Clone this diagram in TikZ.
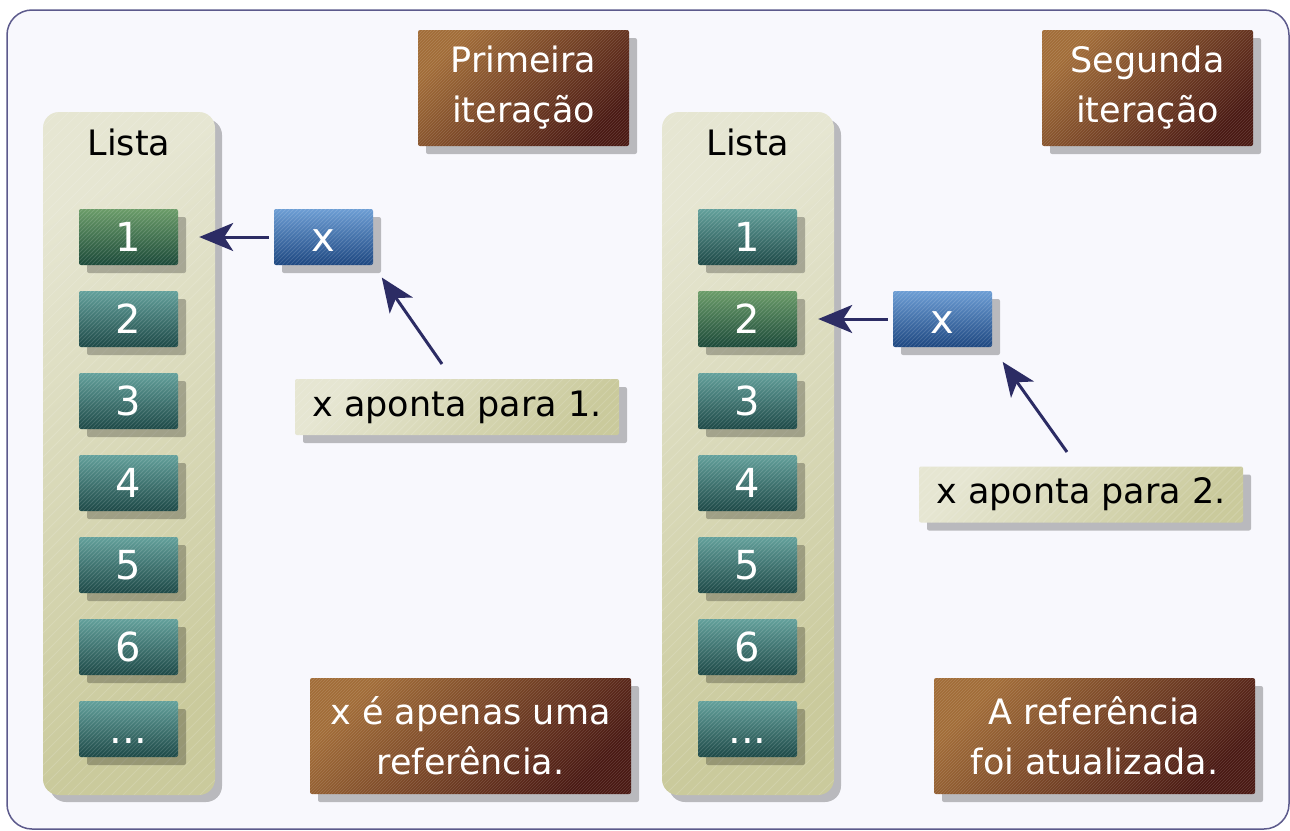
\documentclass[tikz,border=0pt]{standalone}
\usepackage{fontspec}
\setmainfont{DejaVu Sans}
\usetikzlibrary{shadows,arrows.meta}
\definecolor{bgc}{HTML}{F8F8FD}
\definecolor{framec}{HTML}{5C5A8C}
\definecolor{tealA}{HTML}{62A09B}
\definecolor{tealB}{HTML}{1C4846}
\definecolor{greenA}{HTML}{6A9C68}
\definecolor{greenB}{HTML}{1A4838}
\definecolor{blueA}{HTML}{6C9DD4}
\definecolor{blueB}{HTML}{1C4680}
\definecolor{brownA}{HTML}{A06A34}
\definecolor{brownB}{HTML}{46140E}
\definecolor{beigeA}{HTML}{E6E6D2}
\definecolor{beigeB}{HTML}{CACA9C}
\definecolor{arrowc}{HTML}{2C2C64}
\tikzset{
  txt/.style={font=\fontsize{35}{50}\selectfont},
  shad/.style={drop shadow={shadow xshift=#1, shadow yshift=-#1, fill=black, opacity=0.25}},
  stripes/.style n args={3}{path picture={
    \foreach \k in {0,...,#3}
      \draw[white, opacity=0.14, line width=0.8pt]
        ([xshift={(\k*#1+#2)*1pt}]path picture bounding box.south west) -- ++(700,-700);}},
  colbox/.style={rounded corners=16pt, minimum width=172pt, minimum height=683pt,
    top color=beigeA, bottom color=beigeB, shading angle=30, shad=7pt, stripes={11}{-690}{80}, inner sep=0pt},
  cell/.style={font=\fontsize{40}{48}\selectfont, text=white, rounded corners=2pt, minimum width=99pt, minimum height=56pt, inner sep=0pt,
    text height=29pt, text depth=0pt, shading angle=45, shad=8pt, stripes={4}{-60}{42}},
  tealcell/.style={cell, top color=tealA, bottom color=tealB},
  greencell/.style={cell, top color=greenA, bottom color=greenB},
  bluecell/.style={cell, top color=blueA, bottom color=blueB},
  brownbox/.style={txt, text=white, align=center, rounded corners=2pt, minimum width=#1, minimum height=116pt,
    inner sep=0pt, top color=brownA, bottom color=brownB, shading angle=45, shad=8pt, stripes={3}{-120}{150}},
  notebox/.style={txt, text=black, rounded corners=2pt, minimum width=324pt, minimum height=56pt, inner sep=0pt,
    top color=beigeA, bottom color=beigeB, shading angle=45, shad=8pt, stripes={8}{-60}{50}},
  pointer/.style={draw=arrowc, line width=3pt, -{Stealth[length=34pt,width=28pt,inset=9pt]}}
}
\begin{document}
\begin{tikzpicture}[x=1pt,y=-1pt]
\fill[white] (0,0) rectangle (1290,830);
\draw[framec, line width=1.5pt, fill=bgc, rounded corners=25pt] (7,10) rectangle (1289,829);

% columns
\node[colbox] (col1) at (129,453.5) {};
\node[colbox] (col2) at (748,453.5) {};
\node[txt] (lista1) at (129,142) {Lista};
\node[txt] (lista2) at (748,142) {Lista};

% left cells
\node[greencell] (a1) at (128.5,237) {1};
\node[tealcell] (a2) at (128.5,319) {2};
\node[tealcell] (a3) at (128.5,401) {3};
\node[tealcell] (a4) at (128.5,483) {4};
\node[tealcell] (a5) at (128.5,565) {5};
\node[tealcell] (a6) at (128.5,647) {6};
\node[tealcell] (a7) at (128.5,729) {...};
% right cells
\node[tealcell] (b1) at (747.5,237) {1};
\node[greencell] (b2) at (747.5,319) {2};
\node[tealcell] (b3) at (747.5,401) {3};
\node[tealcell] (b4) at (747.5,483) {4};
\node[tealcell] (b5) at (747.5,565) {5};
\node[tealcell] (b6) at (747.5,647) {6};
\node[tealcell] (b7) at (747.5,729) {...};

% x references
\node[bluecell] (x1) at (323.5,237) {x};
\node[bluecell] (x2) at (942.5,319) {x};

% notes
\node[notebox] (n1) at (457,407) {x aponta para 1.};
\node[notebox] (n2) at (1081,494.5) {x aponta para 2.};

% brown captions
\node[brownbox=211pt] (t1) at (523.5,88) {Primeira\\iteração};
\node[brownbox=211pt] (t2) at (1147.5,88) {Segunda\\iteração};
\node[brownbox=321pt] (t3) at (470.5,736) {x é apenas uma\\referência.};
\node[brownbox=321pt] (t4) at (1094.5,736) {A referência\\foi atualizada.};

% arrows
\draw[pointer, shorten <=5pt, shorten >=21pt] (x1.west) -- (a1.east);
\draw[pointer, shorten <=5pt, shorten >=21pt] (x2.west) -- (b2.east);
\coordinate (c1) at (442,364);
\coordinate (c2) at (1067,452);
\draw[pointer, shorten >=15pt] (c1) -- (x1.south east);
\draw[pointer, shorten >=18pt] (c2) -- (x2.south east);
\end{tikzpicture}
\end{document}
